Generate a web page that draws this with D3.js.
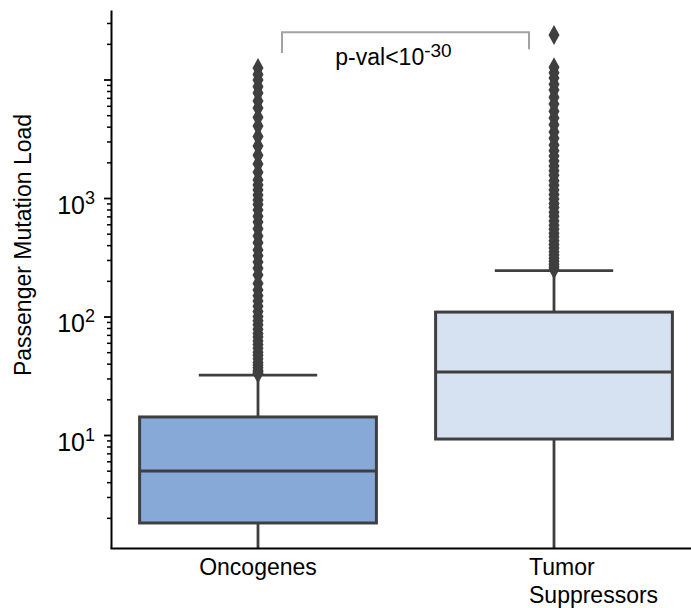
<!DOCTYPE html>
<html>
<head>
<meta charset="utf-8">
<script src="https://cdn.jsdelivr.net/npm/d3@7"></script>
<style>
  html, body { margin: 0; padding: 0; background: #fff; }
  svg { display: block; font-family: "Liberation Sans", Arial, sans-serif; }
</style>
</head>
<body>
<svg id="chart" width="691" height="608"></svg>
<script>
// Box statistics per gene class (passenger mutation load, log scale)
const categories = ["Oncogenes", "Tumor Suppressors"];
const categoryLines = [["Oncogenes"], ["Tumor", "Suppressors"]];
const whiskerLow = [1, 1];
const q1 = [1.81, 9.25];
const medians = [4.97, 34];
const q3 = [14.2, 109];
const whiskerHigh = [32, 244];

// Outlying genes above the upper whisker
const oncogeneOutliers = [
  33, 34, 35, 37, 39, 41, 44, 47, 50, 54, 58, 62, 67, 72, 78, 85, 92, 100, 110,
  122, 135, 150, 167, 190, 224, 255, 288, 325, 364, 420, 478, 550, 627, 700, 792,
  880, 962, 1060, 1170, 1290, 1420, 1650, 1940, 2300, 2750, 3300, 4050, 4800,
  5750, 6600, 7700, 8700, 9900, 11000, 12500
];
const suppressorOutliers = [
  250, 262, 276, 292, 310, 330, 352, 378, 405, 435, 470, 505, 545, 590, 640, 700,
  760, 830, 900, 980, 1070, 1170, 1280, 1400, 1560, 1700, 1860, 2050, 2260, 2500,
  2800, 3200, 3610, 4150, 4730, 5400, 6210, 7100, 8150, 9100, 10300, 11400, 12700,
  23800
];
const outliers = [oncogeneOutliers, suppressorOutliers];

// Log-axis ticks
const majorTicks = [10, 100, 1000, 10000];
const labelledExponents = { 10: "1", 100: "2", 1000: "3" };
const minorMultipliers = [2, 3, 4, 5, 6, 7, 8, 9];
const decades = [1, 10, 100, 1000, 10000];

// Significance annotation
const pLabelBase = "p-val<10";
const pLabelExp = "-30";
const bracketTop = 25000;
const bracketLegs = [16700, 18000];

const boxFills = ["#87a9d8", "#d6e2f2"];
const ink = "#3f3f3f";

const svg = d3.select("#chart");

const x = d3.scaleBand().domain(categories).range([110, 702]).padding(0);
const y = d3.scaleLog().domain([1.113, 38600]).range([548, 10]);
const cx = c => x(c) + x.bandwidth() / 2;
const boxW = x.bandwidth() * 0.8;

// Clip region for the plotting area
svg.append("defs").append("clipPath").attr("id", "plotClip")
  .append("rect").attr("x", 110).attr("y", 10).attr("width", 600).attr("height", 538);

const plot = svg.append("g").attr("clip-path", "url(#plotClip)");

categories.forEach((c, i) => {
  const g = plot.append("g");
  const xc = cx(c);
  // whiskers
  g.append("line")
    .attr("x1", xc).attr("x2", xc)
    .attr("y1", y(q1[i])).attr("y2", y(whiskerLow[i]))
    .attr("stroke", ink).attr("stroke-width", 2.8);
  g.append("line")
    .attr("x1", xc).attr("x2", xc)
    .attr("y1", y(q3[i])).attr("y2", y(whiskerHigh[i]))
    .attr("stroke", ink).attr("stroke-width", 2.8);
  // caps
  g.append("line")
    .attr("x1", xc - boxW / 4).attr("x2", xc + boxW / 4)
    .attr("y1", y(whiskerHigh[i])).attr("y2", y(whiskerHigh[i]))
    .attr("stroke", ink).attr("stroke-width", 2.8);
  g.append("line")
    .attr("x1", xc - boxW / 4).attr("x2", xc + boxW / 4)
    .attr("y1", y(whiskerLow[i])).attr("y2", y(whiskerLow[i]))
    .attr("stroke", ink).attr("stroke-width", 2.8);
  // box
  g.append("rect")
    .attr("x", xc - boxW / 2).attr("width", boxW)
    .attr("y", y(q3[i])).attr("height", y(q1[i]) - y(q3[i]))
    .attr("fill", boxFills[i]).attr("stroke", ink).attr("stroke-width", 3);
  // median
  g.append("line")
    .attr("x1", xc - boxW / 2).attr("x2", xc + boxW / 2)
    .attr("y1", y(medians[i])).attr("y2", y(medians[i]))
    .attr("stroke", ink).attr("stroke-width", 3);
  // fliers as thin diamonds
  const dw = 5.5, dh = 10;
  g.selectAll("path.flier").data(outliers[i]).join("path")
    .attr("class", "flier")
    .attr("d", v => {
      const yy = y(v);
      return `M${xc},${yy - dh}L${xc + dw},${yy}L${xc},${yy + dh}L${xc - dw},${yy}Z`;
    })
    .attr("fill", ink);
});

// Y axis: minor ticks
const minorTicks = [];
decades.forEach(d => minorMultipliers.forEach(m => {
  const v = d * m;
  if (v >= y.domain()[0] && v <= y.domain()[1]) minorTicks.push(v);
}));

const yMinor = svg.append("g").attr("transform", "translate(111,0)")
  .call(d3.axisLeft(y).tickValues(minorTicks).tickSize(4).tickFormat(""));
yMinor.select(".domain").remove();
yMinor.selectAll(".tick line").attr("stroke", "#000").attr("stroke-width", 1.5);

const yMajor = svg.append("g").attr("transform", "translate(111,0)")
  .call(d3.axisLeft(y).tickValues(majorTicks).tickSize(7).tickSizeOuter(0).tickFormat(""));
yMajor.select(".domain").attr("stroke", "#000").attr("stroke-width", 2);
yMajor.selectAll(".tick line").attr("stroke", "#000").attr("stroke-width", 1.8);
yMajor.selectAll(".tick text").each(function (v) {
  const t = d3.select(this);
  const e = labelledExponents[v];
  if (!e) return;
  t.attr("x", -16).attr("dy", null).attr("y", 15)
    .attr("text-anchor", "end").attr("fill", "#000").attr("font-size", 25);
  t.append("tspan").text("10");
  t.append("tspan").attr("font-size", 18).attr("dy", -10).text(e);
});

// X axis
const xAxis = svg.append("g").attr("transform", "translate(0,548)")
  .call(d3.axisBottom(x).tickSize(0).tickFormat(""));
xAxis.select(".domain").attr("stroke", "#000").attr("stroke-width", 2);

categories.forEach((c, i) => {
  const lines = categoryLines[i];
  const t = svg.append("text")
    .attr("font-size", 23).attr("fill", "#000")
    .attr("text-anchor", lines.length > 1 ? "start" : "middle");
  lines.forEach((ln, k) => {
    t.append("tspan")
      .attr("x", lines.length > 1 ? cx(c) - 25 : cx(c))
      .attr("y", 575 + k * 28)
      .text(ln);
  });
});

// Y axis title
svg.append("text")
  .attr("transform", `translate(31,${(112 + 378) / 2}) rotate(-90)`)
  .attr("text-anchor", "middle").attr("font-size", 23).attr("fill", "#000")
  .text("Passenger Mutation Load");

// Significance bracket
const bx0 = cx(categories[0]) + 24, bx1 = cx(categories[1]) - 25;
svg.append("path")
  .attr("d", `M${bx0},${y(bracketLegs[0])}V${y(bracketTop)}H${bx1}V${y(bracketLegs[1])}`)
  .attr("fill", "none").attr("stroke", "#a3a3a3").attr("stroke-width", 2);
const pt = svg.append("text")
  .attr("x", (bx0 + bx1) / 2 - 12).attr("y", 65)
  .attr("text-anchor", "middle").attr("font-size", 23).attr("fill", "#000");
pt.append("tspan").text(pLabelBase);
pt.append("tspan").attr("font-size", 19).attr("dy", -8).text(pLabelExp);
</script>
</body>
</html>
